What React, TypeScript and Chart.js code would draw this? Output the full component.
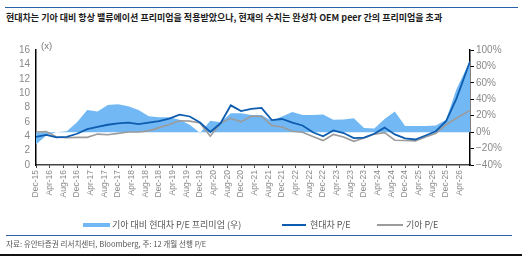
import React, { useEffect, useRef } from 'react';
import { Chart, registerables } from 'chart.js';

Chart.register(...registerables);

// month index since Dec-15
const months = [0, 3, 6, 9, 12, 15, 18, 21, 24, 27, 30, 33, 36, 39, 42, 45, 48, 51, 54, 57, 60, 63, 66, 69, 72, 75, 78, 81, 84, 87, 90, 93, 96, 99, 102, 105, 108, 111, 114, 117, 120, 123, 127];

const hyundaiPE = [3.9, 4.2, 3.85, 3.9, 4.35, 5.0, 5.3, 5.6, 5.8, 5.9, 5.7, 5.9, 6.1, 6.45, 7.0, 6.75, 5.9, 4.6, 5.8, 8.3, 7.5, 7.8, 7.95, 6.25, 6.4, 5.9, 5.5, 4.55, 4.0, 4.8, 4.45, 3.75, 3.8, 4.35, 5.2, 4.25, 3.7, 3.55, 4.1, 4.7, 6.1, 9.2, 14.4];

const kiaPE = [4.6, 4.65, 3.9, 3.8, 3.85, 3.85, 4.3, 4.2, 4.4, 4.6, 4.6, 4.75, 5.2, 5.65, 6.15, 6.1, 5.85, 4.0, 5.85, 6.5, 6.0, 6.8, 6.75, 5.5, 5.3, 4.7, 4.55, 3.95, 3.4, 4.25, 3.9, 3.3, 3.75, 4.3, 4.5, 3.45, 3.4, 3.35, 3.9, 4.4, 5.6, 6.5, 7.6];

const premium = [-15, -4, 0, 1, 12, 27, 25, 33, 34, 31.5, 27, 19.5, 18, 18, 15, 9, -1, 14, 12, 23, 23, 21, 21, 14, 19, 24.5, 21, 21, 21.5, 15, 15.5, 17, 5, 4.5, 16, 25, 7.5, 7.5, 7.5, 8, 15, 52, 87];

const xTickLabels = ['Dec-15', 'Apr-16', 'Aug-16', 'Dec-16', 'Apr-17', 'Aug-17', 'Dec-17', 'Apr-18', 'Aug-18', 'Dec-18', 'Apr-19', 'Aug-19', 'Dec-19', 'Apr-20', 'Aug-20', 'Dec-20', 'Apr-21', 'Aug-21', 'Dec-21', 'Apr-22', 'Aug-22', 'Dec-22', 'Apr-23', 'Aug-23', 'Dec-23', 'Apr-24', 'Aug-24', 'Dec-24', 'Apr-25', 'Aug-25', 'Dec-25', 'Apr-26'];

const seriesNames = ['기아 대비 현대차 P/E 프리미엄 (우)', '현대차 P/E', '기아 P/E'];
const titleText = '현대차는 기아 대비 항상 밸류에이션 프리미엄을 적용받았으나, 현재의 수치는 완성차 OEM peer 간의 프리미엄을 초과';
const sourceText = '자료: 유안타증권 리서치센터, Bloomberg, 주: 12 개월 선행 P/E';

const AREA = '#72b8f4';
const BLUE = '#0d5cb0';
const GRAY = '#9b9b9b';
const RULE = '#2862aa';
const KR = '"Noto Sans CJK KR", "Noto Sans", sans-serif';
const TICK_FONT = { family: '"Liberation Sans", Arial, sans-serif', size: 10 };

export default function App() {
  const ref = useRef<HTMLCanvasElement | null>(null);

  useEffect(() => {
    if (!ref.current) return;
    const pts = (vals: number[]) => months.map((m, i) => ({ x: m, y: vals[i] }));
    const chart = new Chart(ref.current, {
      type: 'line',
      data: {
        datasets: [
          {
            label: seriesNames[0],
            data: pts(premium),
            yAxisID: 'y1',
            fill: 'origin',
            backgroundColor: AREA,
            borderWidth: 0,
            borderColor: AREA,
            pointRadius: 0,
            tension: 0,
            order: 2,
          },
          {
            label: seriesNames[1],
            data: pts(hyundaiPE),
            yAxisID: 'y',
            borderColor: BLUE,
            borderWidth: 1.8,
            pointRadius: 0,
            fill: false,
            tension: 0,
            order: 0,
          },
          {
            label: seriesNames[2],
            data: pts(kiaPE),
            yAxisID: 'y',
            borderColor: GRAY,
            borderWidth: 1.6,
            pointRadius: 0,
            fill: false,
            tension: 0,
            order: 1,
          },
        ],
      },
      options: {
        responsive: false,
        animation: false,
        devicePixelRatio: 1,
        layout: { padding: { top: 50, left: 0, right: 0, bottom: 0 } },
        plugins: { legend: { display: false }, tooltip: { enabled: false } },
        scales: {
          x: {
            type: 'linear',
            min: 0,
            max: 127,
            ticks: {
              stepSize: 4,
              autoSkip: false,
              includeBounds: false,
              maxRotation: 90,
              minRotation: 90,
              padding: 2,
              color: '#8a8a8a',
              font: { family: '"Liberation Sans", Arial, sans-serif', size: 8.5 },
              callback: (v: any) => {
                const n = Number(v);
                return n % 4 === 0 ? xTickLabels[n / 4] ?? '' : '';
              },
            },
            grid: { drawOnChartArea: false, drawTicks: true, tickLength: 3, color: '#444' },
            border: { color: '#444', width: 1.5 },
            afterFit: (s: any) => {
              s.height = 91;
            },
          },
          y: {
            position: 'left',
            min: 0,
            max: 16,
            ticks: { stepSize: 2, autoSkip: false, color: '#8a8a8a', font: TICK_FONT, padding: 6 },
            grid: { drawOnChartArea: false, drawTicks: false },
            border: { color: '#000', width: 1.5 },
            afterFit: (s: any) => {
              s.width = 36;
            },
          },
          y1: {
            position: 'right',
            min: -40,
            max: 100,
            ticks: {
              stepSize: 20,
              autoSkip: false,
              color: '#8a8a8a',
              font: TICK_FONT,
              padding: 2,
              callback: (v: any) => {
                const n = Number(v);
                return (n < 0 ? '\u2212' + Math.abs(n) : String(n)) + '%';
              },
            },
            grid: { drawOnChartArea: false, drawTicks: true, tickLength: 4, color: '#000' },
            border: { color: '#000', width: 1.5 },
            afterFit: (s: any) => {
              s.width = 52;
            },
          },
        },
      },
    });
    return () => chart.destroy();
  }, []);

  const abs = (o: React.CSSProperties): React.CSSProperties => ({ position: 'absolute', ...o });

  return (
    <div style={{ position: 'fixed', left: 0, top: 0, width: 522, height: 256, background: '#fff', overflow: 'hidden' }}>
      <div style={abs({ left: 5, top: 6.5, width: 513, height: 1.4, background: RULE })} />
      <div style={abs({ left: 6, top: 11, fontFamily: KR, fontSize: 9, fontWeight: 700, color: '#1c1c1c', whiteSpace: 'nowrap', lineHeight: '14px' })}>{titleText}</div>
      <canvas ref={ref} width={522} height={256} style={abs({ left: 0, top: 0, width: 522, height: 256 })} />
      <div style={abs({ left: 41, top: 40, fontFamily: '"Liberation Sans", Arial, sans-serif', fontSize: 9.5, color: '#777', lineHeight: '12px' })}>(x)</div>
      {/* legend */}
      <div style={abs({ left: 83, top: 223, width: 27, height: 4, background: AREA })} />
      <div style={abs({ left: 112, top: 218, fontFamily: KR, fontSize: 9, color: '#555', whiteSpace: 'nowrap', lineHeight: '14px' })}>{seriesNames[0]}</div>
      <div style={abs({ left: 282, top: 224, width: 24, height: 1.8, background: BLUE })} />
      <div style={abs({ left: 310, top: 218, fontFamily: KR, fontSize: 9, color: '#555', whiteSpace: 'nowrap', lineHeight: '14px' })}>{seriesNames[1]}</div>
      <div style={abs({ left: 377, top: 224, width: 26, height: 1.5, background: GRAY })} />
      <div style={abs({ left: 406, top: 218, fontFamily: KR, fontSize: 9, color: '#555', whiteSpace: 'nowrap', lineHeight: '14px' })}>{seriesNames[2]}</div>
      <div style={abs({ left: 6, top: 234.5, width: 506, height: 1.3, background: RULE })} />
      <div style={abs({ left: 6, top: 238, fontFamily: KR, fontSize: 7.6, color: '#555', whiteSpace: 'nowrap', lineHeight: '12px' })}>{sourceText}</div>
      <div style={abs({ left: 0, top: 254, width: 522, height: 2, background: '#111' })} />
    </div>
  );
}
